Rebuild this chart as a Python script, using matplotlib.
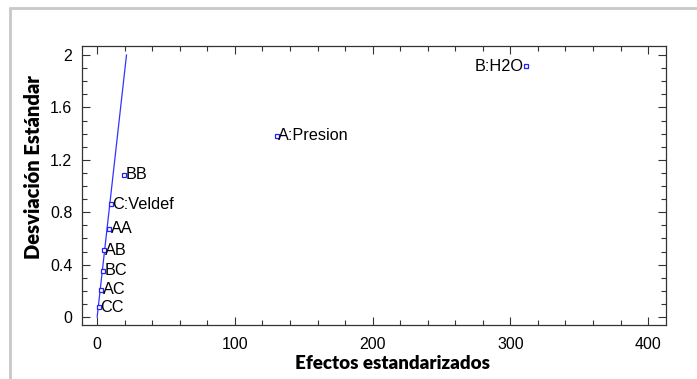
"""
Half-normal plot of standardized effects.
"""

import matplotlib.pyplot as plt
from matplotlib.patches import Rectangle
from matplotlib.ticker import MultipleLocator


EFFECT_NAMES = ["CC", "AC", "BC", "AB", "AA", "C:Veldef", "BB", "A:Presion", "B:H2O"]
EFFECT_VALUES = [1.5, 2.9, 4.6, 4.8, 8.9, 9.7, 19.6, 130.6, 311.0]
STD_DEVIATION = [0.076, 0.21, 0.355, 0.508, 0.675, 0.862, 1.085, 1.383, 1.915]

LINE_X = [0.0, 21.3]
LINE_Y = [0.0, 2.0]


def plot_effects():

    fig = plt.figure(figsize=(6.97, 3.79), dpi=100)
    fig.patch.set_facecolor("white")

    fig.add_artist(
        Rectangle(
            (10 / 697, -0.05), 1.2, (379 - 8) / 379 + 0.05,
            transform=fig.transFigure,
            fill=False,
            edgecolor="#c8c8c8",
            linewidth=2,
        )
    )

    ax = fig.add_axes([82 / 697, 54 / 379, 584 / 697, 279 / 379])

    ax.plot(LINE_X, LINE_Y, color="#3333ff", linewidth=0.9)

    ax.plot(
        EFFECT_VALUES,
        STD_DEVIATION,
        linestyle="none",
        marker="s",
        markersize=3.5,
        markerfacecolor="white",
        markeredgecolor="#2020ff",
        markeredgewidth=0.9,
    )

    for name, x, y in zip(EFFECT_NAMES, EFFECT_VALUES, STD_DEVIATION):
        if name == "B:H2O":
            ax.text(x - 1.5, y, name, ha="right", va="center",
                    fontsize=11.7, family="Liberation Sans")
        else:
            ax.text(x + 1.0, y, name, ha="left", va="center",
                    fontsize=11.7, family="Liberation Sans")

    ax.set_xlim(-11, 413)
    ax.set_ylim(-0.061, 2.069)

    ax.xaxis.set_major_locator(MultipleLocator(100))
    ax.xaxis.set_minor_locator(MultipleLocator(20))
    ax.yaxis.set_major_locator(MultipleLocator(0.4))
    ax.yaxis.set_minor_locator(MultipleLocator(0.1))
    ax.yaxis.set_major_formatter(lambda v, p: f"{v:g}")

    ax.tick_params(which="both", direction="in", top=True, right=True,
                   color="#333333", width=0.8)
    ax.tick_params(which="major", length=6, labelsize=11.5)
    ax.tick_params(which="minor", length=3.5)
    ax.tick_params(axis="x", which="major", pad=8.3)
    ax.tick_params(axis="y", which="major", pad=7)
    for label in ax.get_xticklabels() + ax.get_yticklabels():
        label.set_family("Liberation Sans")

    for spine in ax.spines.values():
        spine.set_color("#333333")
        spine.set_linewidth(0.9)

    ax.set_xlabel("Efectos estandarizados", fontsize=13.5, fontweight="heavy",
                  family="Lato")
    ax.set_ylabel("Desviación Estándar", fontsize=14.5, fontweight="heavy",
                  family="Lato")
    ax.xaxis.set_label_coords(0.531, -0.106)
    ax.yaxis.set_label_coords(-0.067, 0.566)

    fig.savefig("out.png", dpi=100)


if __name__ == "__main__":
    plot_effects()
